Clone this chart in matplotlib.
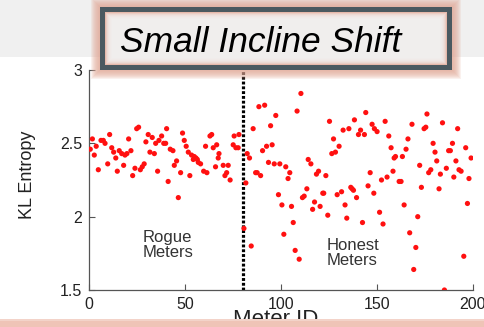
import matplotlib
matplotlib.use("Agg")
import matplotlib.pyplot as plt
from matplotlib.patches import Rectangle

plt.rcParams['font.family'] = ['Liberation Sans', 'DejaVu Sans']

# KL entropy per meter
rogue_ids = [0.5, 1.6, 2.6, 3.6, 4.7, 6.1, 7.3, 8.2, 9.6, 10.6, 11.7, 12.7, 13.8, 14.6,
             15.6, 16.9, 17.9, 18.6, 19.6, 20.5, 21.7, 22.6, 23.8, 24.7, 25.7, 26.6,
             27.6, 28.6, 29.5, 30.7, 31.6, 32.8, 33.9, 34.6, 35.6, 36.3, 37.7, 38.8,
             39.8, 40.3, 41.1, 42.2, 43.6, 44.3, 45.5, 46.4, 47.6, 48.6, 49.5, 50.5,
             51.6, 52.4, 53.3, 54.2, 54.7, 55.6, 56.3, 56.8, 58.0, 59.6, 60.6, 61.3,
             62.9, 63.8, 64.6, 65.8, 66.4, 67.2, 67.6, 69.8, 70.7, 71.6, 72.4, 73.4,
             75.0, 75.5, 76.4, 77.6, 78.0]
rogue_kl = [2.46, 2.53, 2.42, 2.48, 2.32, 2.52, 2.52, 2.50, 2.36, 2.56, 2.47, 2.44, 2.40, 2.31,
            2.45, 2.43, 2.35, 2.42, 2.43, 2.53, 2.45, 2.28, 2.33, 2.60, 2.61, 2.32,
            2.34, 2.36, 2.51, 2.56, 2.44, 2.54, 2.43, 2.50, 2.31, 2.52, 2.55, 2.50,
            2.50, 2.60, 2.24, 2.46, 2.45, 2.35, 2.38, 2.13, 2.30, 2.57, 2.52, 2.48,
            2.44, 2.28, 2.42, 2.39, 2.41, 2.40, 2.39, 2.37, 2.36, 2.31, 2.48, 2.30,
            2.55, 2.56, 2.47, 2.34, 2.49, 2.40, 2.43, 2.35, 2.28, 2.30, 2.35, 2.25,
            2.49, 2.55, 2.47, 2.47, 2.56]

honest_ids = [80.6, 81.6, 82.3, 83.5, 84.4, 85.4, 86.7, 87.5, 88.4, 89.3, 90.3, 91.4, 92.4,
              93.4, 94.5, 95.3, 96.4, 97.2, 98.6, 99.3, 100.4, 101.4, 102.4, 103.6, 104.5,
              105.4, 106.3, 107.3, 108.3, 109.4, 110.3, 111.1, 112.0, 113.4, 114.1, 115.5,
              116.4, 117.4, 118.4, 119.5, 120.3, 121.7, 122.2, 123.3, 124.3, 125.2, 126.4,
              127.3, 128.3, 129.2, 130.2, 131.5, 132.3, 133.3, 134.2, 135.3, 136.3, 137.0,
              137.7, 138.2, 139.3, 140.3, 141.4, 142.4, 143.4, 144.1, 145.3, 146.4, 147.4,
              148.3, 148.6, 150.0, 151.3, 152.3, 153.1, 154.2, 155.2, 156.1, 157.3, 158.3,
              158.9, 159.6, 161.5, 162.5, 163.2, 164.1, 165.1, 166.1, 167.0, 168.2, 169.1,
              170.2, 171.2, 172.2, 173.1, 174.5, 175.4, 176.0, 176.9, 178.0, 179.2, 180.2,
              181.1, 182.3, 183.0, 184.1, 185.1, 186.1, 187.3, 188.2, 189.3, 190.0, 191.1,
              192.0, 192.7, 193.8, 195.2, 196.2, 197.1, 197.9, 199.0]
honest_kl = [1.92, 2.23, 2.43, 2.40, 1.80, 2.60, 2.30, 2.30, 2.75, 2.28, 2.45, 2.76, 2.48,
             2.37, 2.62, 2.49, 2.36, 2.69, 2.15, 2.36, 2.08, 1.88, 2.34, 2.26, 2.30,
             2.07, 1.96, 1.77, 2.72, 1.71, 2.84, 2.13, 2.14, 2.19, 2.39, 2.36,
             2.05, 2.10, 2.29, 2.31, 2.07, 2.16, 2.16, 2.28, 2.01, 2.65, 2.43,
             2.53, 2.44, 2.15, 2.48, 2.17, 2.59, 2.08, 1.99, 2.60, 2.20, 2.19,
             2.18, 2.66, 2.13, 2.56, 2.59, 1.96, 2.56, 2.71, 2.21, 2.30, 2.63,
             2.16, 2.60, 2.58, 2.03, 2.25, 1.95, 2.65, 2.27, 2.55, 2.47, 2.31,
             2.40, 2.41, 2.24, 2.24, 2.41, 2.08, 2.46, 2.53, 1.89, 2.63, 1.64,
             1.79, 2.00, 2.35, 2.20, 2.60, 2.61, 2.70, 2.30, 2.32, 2.50, 2.44,
             2.38, 2.19, 2.29, 2.64, 1.50, 2.33, 2.45, 2.45, 2.50, 2.27, 2.38,
             2.60, 2.32, 2.31, 1.73, 2.47, 2.09, 2.26, 2.40]

split_id = 80
x_ticks = [0, 50, 100, 150, 200]
y_ticks = [1.5, 2, 2.5, 3]

W, H = 485, 327


def box(x0, y0, x1, y1, **kw):
    # pixel box (origin top-left) -> figure rectangle
    return Rectangle((x0 / W, 1 - y1 / H), (x1 - x0) / W, (y1 - y0) / H,
                     transform=fig.transFigure, **kw)


fig = plt.figure(figsize=(W / 100, H / 100), dpi=100)
ax = fig.add_axes([89.3 / W, 1 - 290 / H, 383.7 / W, 220 / H])

ax.scatter(rogue_ids, rogue_kl, s=14, color='#ff1010', edgecolors='none', zorder=3)
ax.scatter(honest_ids, honest_kl, s=14, color='#ff1010', edgecolors='none', zorder=3)
ax.axvline(split_id, color='black', lw=2.3, linestyle=(0, (0.9, 0.6)), zorder=2)

ax.set_xlim(0, 200)
ax.set_ylim(1.5, 3)
ax.set_xticks(x_ticks)
ax.set_yticks(y_ticks)
ax.set_yticklabels(['1.5', '2', '2.5', '3'])
ax.tick_params(direction='in', length=4, width=0.8, color='#555555',
               labelsize=11.5, labelcolor='#222222', pad=5)
for side in ['top', 'right']:
    ax.spines[side].set_visible(False)
for side in ['left', 'bottom']:
    ax.spines[side].set_color('#555555')
    ax.spines[side].set_linewidth(0.9)

ax.set_ylabel('KL Entropy', fontsize=13, color='#222222')
ax.yaxis.set_label_coords(-0.139, 0.523)
ax.set_xlabel('Meter ID', fontsize=16, color='#222222')
ax.xaxis.set_label_coords(0.487, -0.088)

ax.text(28, 1.81, 'Rogue\nMeters', fontsize=12, color='#333333', va='center',
        ha='left', linespacing=1.0)
ax.text(123.8, 1.75, 'Honest\nMeters', fontsize=12, color='#333333', va='center',
        ha='left', linespacing=1.0)

# slide overlay: grey band on top, framed title box, pink strip at bottom
fig.add_artist(box(0, 0, W, 57, color='#f0f0f0', lw=0, zorder=5))
fig.add_artist(box(0, 319, W, H, color='#f3d3c9', lw=0, zorder=5))
fig.add_artist(box(0, 321, W, H, color='#efc4b7', lw=0, zorder=5))
for g in range(9, 0, -1):
    fig.add_artist(box(100 - g, 7 - g, 452 + g, 70 + g, color='#e2a896',
                       alpha=0.16, lw=0, zorder=6))
fig.add_artist(box(100, 7, 452, 70, color='#4b5960', lw=0, zorder=7))
fig.add_artist(box(105, 12, 447, 65, color='#e6b8aa', lw=0, zorder=8))
for g in range(1, 8):
    fig.add_artist(box(105 + g, 12 + g, 447 - g, 65 - g, color='#f2f2f2',
                       alpha=0.35, lw=0, zorder=8))
fig.text(120 / W, 1 - 52 / H, 'Small Incline Shift', fontsize=25.5, style='italic',
         color='black', ha='left', va='baseline', zorder=9)

fig.savefig('out.png', dpi=100)
